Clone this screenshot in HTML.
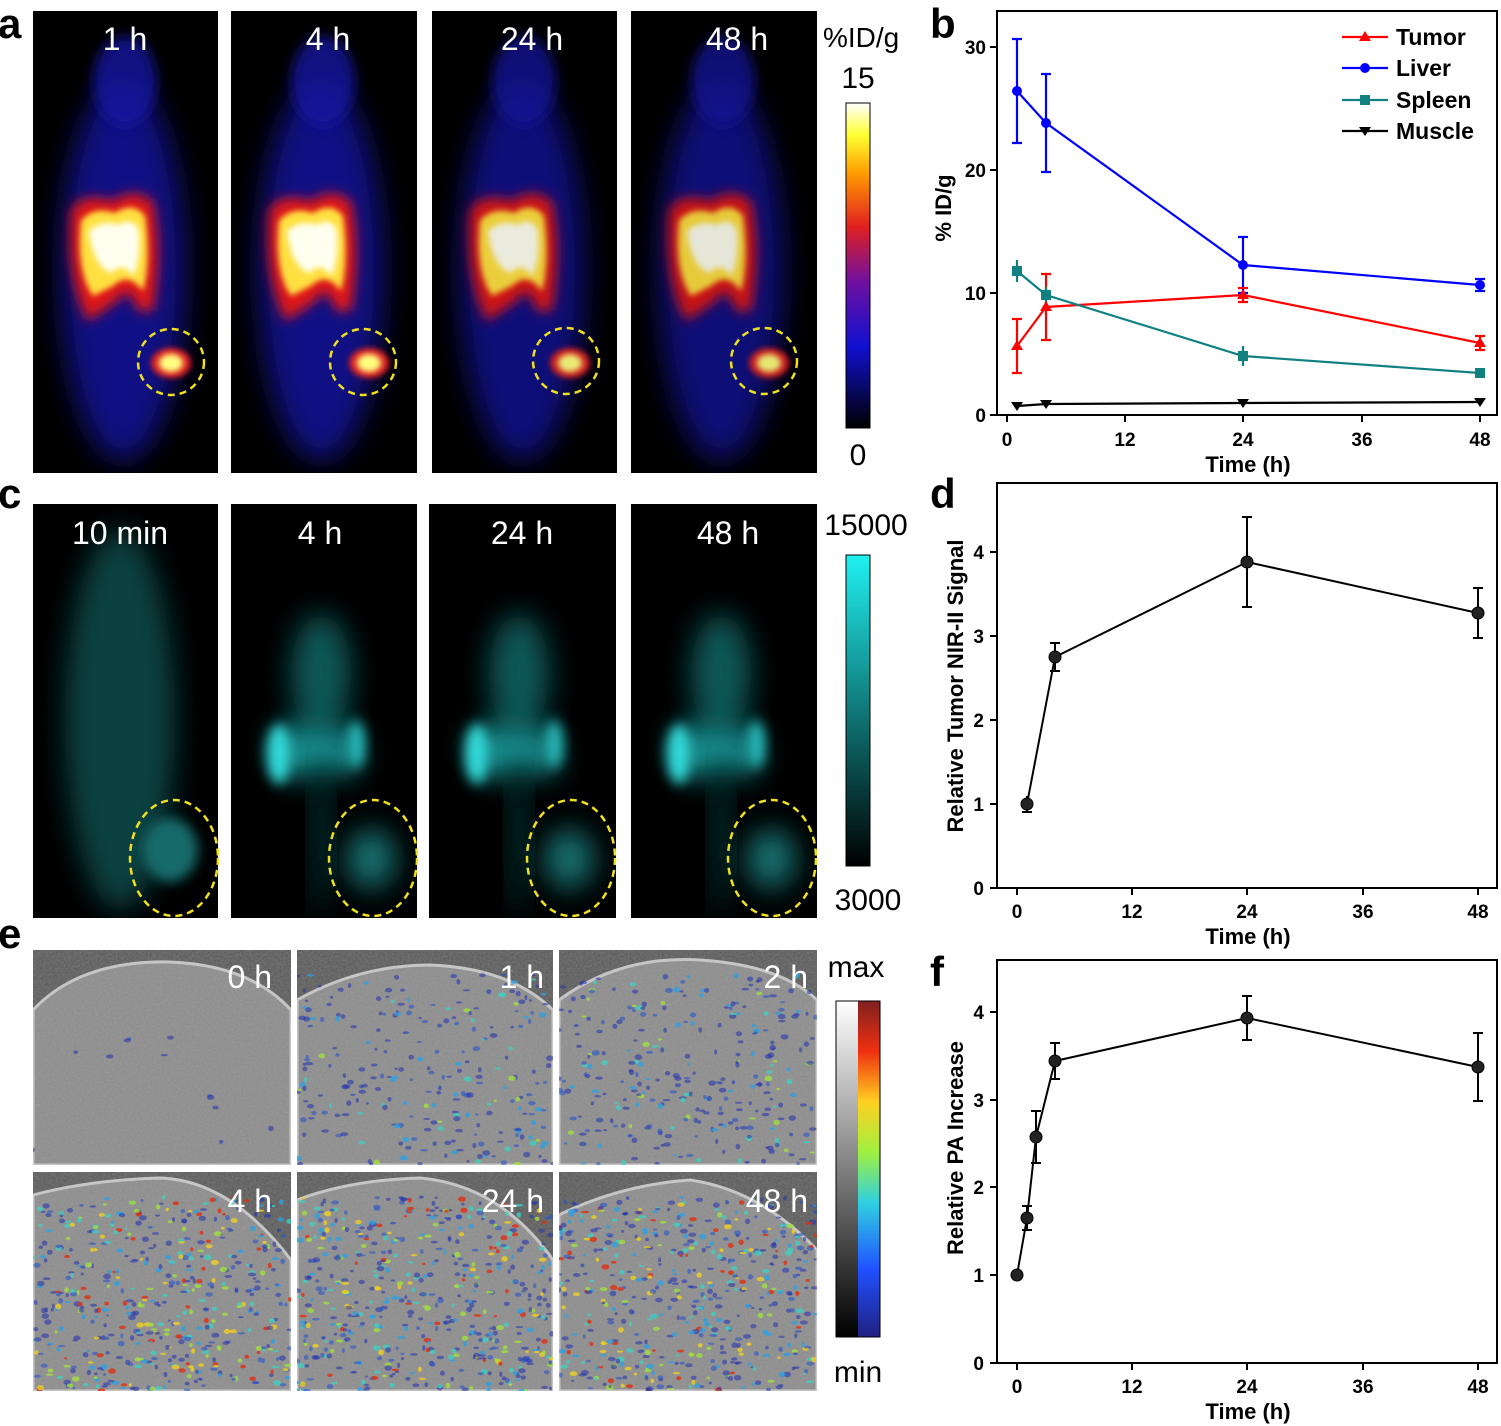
<!DOCTYPE html>
<html><head><meta charset="utf-8"><style>
html,body{margin:0;padding:0;background:#fff}
svg{display:block}
text{font-family:"Liberation Sans",Arial,sans-serif}
.pl{font-size:42px;font-weight:bold}
.tk{font-size:19px;font-weight:bold}
.ax{font-size:22px;font-weight:bold}
.lbl{font-size:32px;fill:#fff}
.cb{font-size:30px}
</style></head><body>
<svg id="s" width="1501" height="1426" viewBox="0 0 1501 1426" xmlns="http://www.w3.org/2000/svg">
<defs>
<filter id="b6" x="-50%" y="-50%" width="200%" height="200%"><feGaussianBlur stdDeviation="6"/></filter>
<filter id="b3" x="-50%" y="-50%" width="200%" height="200%"><feGaussianBlur stdDeviation="3"/></filter>
<filter id="b12" x="-50%" y="-50%" width="200%" height="200%"><feGaussianBlur stdDeviation="14"/></filter>
<filter id="grain" x="0" y="0" width="100%" height="100%"><feTurbulence type="fractalNoise" baseFrequency="0.5" numOctaves="2" seed="3"/><feColorMatrix type="matrix" values="0 0 0 0 0.5 0 0 0 0 0.5 0 0 0 0 0.5 0 0 0 0.6 0"/><feComposite operator="in" in2="SourceGraphic"/></filter>
<clipPath id="ca1"><rect x="33" y="11" width="185" height="462"/></clipPath>
<clipPath id="ca2"><rect x="231" y="11" width="186" height="462"/></clipPath>
<clipPath id="ca3"><rect x="432" y="11" width="185" height="462"/></clipPath>
<clipPath id="ca4"><rect x="631" y="11" width="186" height="462"/></clipPath>
<clipPath id="cc1"><rect x="33" y="504" width="185" height="414"/></clipPath>
<clipPath id="cc2"><rect x="231" y="504" width="186" height="414"/></clipPath>
<clipPath id="cc3"><rect x="429" y="504" width="187" height="414"/></clipPath>
<clipPath id="cc4"><rect x="631" y="504" width="186" height="414"/></clipPath>
<clipPath id="ce"><rect x="33" y="950" width="784" height="441"/></clipPath>
<linearGradient id="cbA" x1="0" y1="1" x2="0" y2="0">
<stop offset="0" stop-color="#000"/><stop offset="0.25" stop-color="#1010d0"/><stop offset="0.45" stop-color="#7010a0"/><stop offset="0.62" stop-color="#e02020"/><stop offset="0.78" stop-color="#ff9900"/><stop offset="0.9" stop-color="#ffff30"/><stop offset="1" stop-color="#fff"/></linearGradient>
<linearGradient id="cbC" x1="0" y1="1" x2="0" y2="0"><stop offset="0" stop-color="#000"/><stop offset="1" stop-color="#20f0f0"/></linearGradient>
<linearGradient id="cbG" x1="0" y1="1" x2="0" y2="0"><stop offset="0" stop-color="#000"/><stop offset="1" stop-color="#fff"/></linearGradient>
<linearGradient id="cbJ" x1="0" y1="1" x2="0" y2="0"><stop offset="0" stop-color="#202080"/><stop offset="0.2" stop-color="#2050ff"/><stop offset="0.4" stop-color="#30d0e0"/><stop offset="0.55" stop-color="#a0f040"/><stop offset="0.7" stop-color="#ffd020"/><stop offset="0.85" stop-color="#f03010"/><stop offset="1" stop-color="#802020"/></linearGradient>
<g id="mA">
<ellipse cx="90" cy="260" rx="62" ry="190" fill="#1414b0" filter="url(#b12)" opacity="0.75"/>
<ellipse cx="92" cy="70" rx="32" ry="45" fill="#1818a0" filter="url(#b6)" opacity="0.8"/>
<path d="M38 200 Q48 180 80 190 Q100 175 120 190 Q130 240 120 300 L105 300 Q95 270 85 290 L55 310 Q33 270 38 200Z" fill="#e01818" filter="url(#b6)"/>
<path d="M48 210 Q60 195 82 202 Q100 190 112 205 Q118 250 110 280 Q95 260 80 275 L60 285 Q43 260 48 210Z" fill="#ffe040" filter="url(#b3)"/>
<path d="M56 220 Q70 208 85 214 Q100 205 106 220 Q108 250 100 265 Q90 250 78 262 Q60 255 56 220Z" fill="#fffff0" filter="url(#b3)"/>
<ellipse cx="138" cy="352" rx="20" ry="15" fill="#e02020" filter="url(#b3)"/>
<ellipse cx="138" cy="352" rx="12" ry="9" fill="#ffff80" filter="url(#b3)"/>
</g>
<g id="mC">
<ellipse cx="90" cy="170" rx="30" ry="60" fill="#0c5858" filter="url(#b12)"/>
<path d="M40 240 Q70 200 90 230 Q110 200 130 250 Q120 290 90 260 Q60 300 40 240Z" fill="#129090" filter="url(#b12)"/>
<ellipse cx="48" cy="250" rx="12" ry="30" fill="#30d8d8" filter="url(#b6)"/>
<ellipse cx="125" cy="240" rx="9" ry="24" fill="#28b8b8" filter="url(#b6)"/>
<ellipse cx="90" cy="330" rx="8" ry="80" fill="#0a3a3a" filter="url(#b12)"/>
<ellipse cx="140" cy="355" rx="25" ry="30" fill="#157070" filter="url(#b12)"/>
</g>
</defs>
<rect width="1501" height="1426" fill="#fff"/>
<!-- panel a -->
<rect x="33" y="11" width="185" height="462" fill="#000"/>
<rect x="231" y="11" width="186" height="462" fill="#000"/>
<rect x="432" y="11" width="185" height="462" fill="#000"/>
<rect x="631" y="11" width="186" height="462" fill="#000"/>
<g clip-path="url(#ca1)"><g transform="translate(33,11)"><use href="#mA"/></g></g>
<g clip-path="url(#ca2)"><g transform="translate(231,11)"><use href="#mA"/></g></g>
<g clip-path="url(#ca3)"><g transform="translate(432,11)"><use href="#mA" opacity="0.92"/></g></g>
<g clip-path="url(#ca4)"><g transform="translate(631,11)"><use href="#mA" opacity="0.9"/></g></g>
<g fill="none" stroke="#f0e020" stroke-width="2.5" stroke-dasharray="7,5">
<circle cx="171" cy="362" r="33"/><circle cx="363" cy="362" r="33"/><circle cx="566" cy="361" r="33"/><circle cx="764" cy="361" r="33"/></g>
<text class="lbl" x="125" y="50" text-anchor="middle">1 h</text>
<text class="lbl" x="328" y="50" text-anchor="middle">4 h</text>
<text class="lbl" x="532" y="50" text-anchor="middle">24 h</text>
<text class="lbl" x="737" y="50" text-anchor="middle">48 h</text>
<rect x="846" y="103" width="24" height="325" fill="url(#cbA)" stroke="#000"/>
<text class="cb" x="823" y="47" style="font-size:28px">%ID/g</text>
<text class="cb" x="858" y="88" text-anchor="middle">15</text>
<text class="cb" x="858" y="465" text-anchor="middle">0</text>
<text class="pl" x="-2" y="38">a</text>
<!-- panel c -->
<rect x="33" y="504" width="185" height="414" fill="#000"/>
<rect x="231" y="504" width="186" height="414" fill="#000"/>
<rect x="429" y="504" width="187" height="414" fill="#000"/>
<rect x="631" y="504" width="186" height="414" fill="#000"/>
<g clip-path="url(#cc1)">
<ellipse cx="120" cy="720" rx="55" ry="190" fill="#0c4a4a" filter="url(#b12)" opacity="0.9"/>
<ellipse cx="170" cy="850" rx="28" ry="32" fill="#146a6a" filter="url(#b6)"/></g>
<g clip-path="url(#cc2)"><g transform="translate(231,504)"><use href="#mC"/></g></g>
<g clip-path="url(#cc3)"><g transform="translate(429,504)"><use href="#mC"/></g></g>
<g clip-path="url(#cc4)"><g transform="translate(631,504)"><use href="#mC"/></g></g>
<g fill="none" stroke="#f0e020" stroke-width="2.5" stroke-dasharray="7,5">
<ellipse cx="174" cy="858" rx="44" ry="58"/><ellipse cx="373" cy="858" rx="44" ry="58"/><ellipse cx="571" cy="858" rx="44" ry="58"/><ellipse cx="772" cy="858" rx="44" ry="58"/></g>
<text class="lbl" x="120" y="544" text-anchor="middle">10 min</text>
<text class="lbl" x="320" y="544" text-anchor="middle">4 h</text>
<text class="lbl" x="522" y="544" text-anchor="middle">24 h</text>
<text class="lbl" x="728" y="544" text-anchor="middle">48 h</text>
<rect x="846" y="555" width="24" height="311" fill="url(#cbC)" stroke="#000"/>
<text class="cb" x="866" y="535" text-anchor="middle">15000</text>
<text class="cb" x="868" y="910" text-anchor="middle">3000</text>
<text class="pl" x="-2" y="508">c</text>
<!-- panel e -->
<g clip-path="url(#ce)">
<rect x="33" y="950" width="784" height="441" fill="#585858"/>
<g id="domes" fill="#8a8a8a" stroke="#c8c8c8" stroke-width="3">
<path d="M33 1165 L33 1010 Q80 960 170 962 Q250 965 291 1010 L291 1165Z"/>
<path d="M297 1165 L297 1000 Q360 965 430 965 Q510 968 553 1010 L553 1165Z"/>
<path d="M559 1165 L559 1000 Q620 955 700 960 Q780 965 817 1000 L817 1165Z"/>
<path d="M33 1391 L33 1195 Q90 1180 160 1178 Q230 1180 291 1260 L291 1391Z"/>
<path d="M297 1391 L297 1200 Q350 1180 420 1178 Q500 1185 553 1260 L553 1391Z"/>
<path d="M559 1391 L559 1215 Q620 1185 690 1180 Q760 1190 817 1250 L817 1391Z"/>
</g>
<rect x="33" y="950" width="784" height="441" fill="#fff" filter="url(#grain)" opacity="0.55"/>
<g id="spk"></g>
</g>
<rect x="291" y="950" width="6" height="441" fill="#fff"/><rect x="553" y="950" width="6" height="441" fill="#fff"/><rect x="33" y="1165" width="784" height="7" fill="#fff"/>
<text class="lbl" x="272" y="988" text-anchor="end">0 h</text>
<text class="lbl" x="544" y="988" text-anchor="end">1 h</text>
<text class="lbl" x="808" y="988" text-anchor="end">2 h</text>
<text class="lbl" x="272" y="1212" text-anchor="end">4 h</text>
<text class="lbl" x="544" y="1212" text-anchor="end">24 h</text>
<text class="lbl" x="808" y="1212" text-anchor="end">48 h</text>
<rect x="836" y="1001" width="22" height="336" fill="url(#cbG)"/>
<rect x="858" y="1001" width="22" height="336" fill="url(#cbJ)"/>
<rect x="836" y="1001" width="44" height="336" fill="none" stroke="#000"/>
<text class="cb" x="856" y="977" text-anchor="middle">max</text>
<text class="cb" x="858" y="1382" text-anchor="middle">min</text>
<text class="pl" x="-2" y="948">e</text>

<!-- panel b -->
<g stroke="#000" stroke-width="2" fill="none">
<rect x="997" y="11" width="500" height="404"/>
<path d="M1007 415v7M1125 415v7M1243 415v7M1362 415v7M1480 415v7M997 415h-7M997 293h-7M997 170h-7M997 47h-7"/>
</g>
<g class="tk" text-anchor="middle"><text x="1007" y="446">0</text><text x="1125" y="446">12</text><text x="1243" y="446">24</text><text x="1362" y="446">36</text><text x="1480" y="446">48</text></g>
<g class="tk" text-anchor="end"><text x="986" y="422">0</text><text x="986" y="300">10</text><text x="986" y="177">20</text><text x="986" y="54">30</text></g>
<text class="ax" x="1248" y="472" text-anchor="middle">Time (h)</text>
<text class="ax" transform="translate(951,208) rotate(-90)" text-anchor="middle">% ID/g</text>
<text class="pl" x="930" y="38">b</text>
<g stroke-width="2.2" fill="none">
<path stroke="#f00" d="M1017 346L1046 307L1243 295L1480 343M1017 319v54M1046 274v66M1243 288v14M1480 336v14"/>
<path stroke="#00f" d="M1017 91L1046 123L1243 265L1480 285M1017 39v104M1046 74v98M1243 237v56M1480 279v12"/>
<path stroke="#108080" d="M1017 271L1046 295L1243 356L1480 373M1017 260v22M1046 287v16M1243 346v20M1480 371v4"/>
<path stroke="#000" d="M1017 406L1046 404L1243 403L1480 402"/>
<path stroke="#f00" d="M1012 319h10M1012 373h10M1041 274h10M1041 340h10M1238 288h10M1238 302h10M1475 336h10M1475 350h10"/>
<path stroke="#00f" d="M1012 39h10M1012 143h10M1041 74h10M1041 172h10M1238 237h10M1238 293h10M1475 279h10M1475 291h10"/>
</g>
<g fill="#f00"><path d="M1017 340l6 10h-12z"/><path d="M1046 301l6 10h-12z"/><path d="M1243 289l6 10h-12z"/><path d="M1480 337l6 10h-12z"/></g>
<g fill="#00f"><circle cx="1017" cy="91" r="5"/><circle cx="1046" cy="123" r="5"/><circle cx="1243" cy="265" r="5"/><circle cx="1480" cy="285" r="5"/></g>
<g fill="#108080"><rect x="1012" y="266" width="10" height="10"/><rect x="1041" y="290" width="10" height="10"/><rect x="1238" y="351" width="10" height="10"/><rect x="1475" y="368" width="10" height="10"/></g>
<g fill="#000"><path d="M1011 402h12l-6 9z"/><path d="M1040 400h12l-6 9z"/><path d="M1237 399h12l-6 9z"/><path d="M1474 398h12l-6 9z"/></g>
<g stroke-width="2.2"><path stroke="#f00" d="M1342 37h46"/><path stroke="#00f" d="M1342 68h46"/><path stroke="#108080" d="M1342 100h46"/><path stroke="#000" d="M1342 131h46"/></g>
<path d="M1365 31l6 10h-12z" fill="#f00"/><circle cx="1365" cy="68" r="5" fill="#00f"/><rect x="1360" y="95" width="10" height="10" fill="#108080"/><path d="M1359 127h12l-6 9z"/>
<g class="ax" style="font-size:23px"><text x="1396" y="45">Tumor</text><text x="1396" y="76">Liver</text><text x="1396" y="108">Spleen</text><text x="1396" y="139">Muscle</text></g>

<!-- panel d -->
<g stroke="#000" stroke-width="2" fill="none">
<rect x="997" y="483" width="500" height="405"/>
<path d="M1017 888v7M1132 888v7M1247 888v7M1363 888v7M1478 888v7M997 888h-7M997 804h-7M997 720h-7M997 636h-7M997 552h-7"/>
<path d="M1027 804L1055 657L1247 562L1478 613M1027 796v16M1055 643v28M1247 517v90M1478 588v50M1022 812h10M1050 643h10M1050 671h10M1242 517h10M1242 607h10M1473 588h10M1473 638h10"/>
</g>
<g class="tk" text-anchor="middle"><text x="1017" y="918">0</text><text x="1132" y="918">12</text><text x="1247" y="918">24</text><text x="1363" y="918">36</text><text x="1478" y="918">48</text></g>
<g class="tk" text-anchor="end"><text x="984" y="895">0</text><text x="984" y="811">1</text><text x="984" y="727">2</text><text x="984" y="643">3</text><text x="984" y="559">4</text></g>
<text class="ax" x="1248" y="944" text-anchor="middle">Time (h)</text>
<text class="ax" transform="translate(963,686) rotate(-90)" text-anchor="middle">Relative Tumor NIR-II Signal</text>
<text class="pl" x="930" y="508">d</text>
<g fill="#222" stroke="#000"><circle cx="1027" cy="804" r="6"/><circle cx="1055" cy="657" r="6"/><circle cx="1247" cy="562" r="6"/><circle cx="1478" cy="613" r="6"/></g>

<!-- panel f -->
<g stroke="#000" stroke-width="2" fill="none">
<rect x="997" y="960" width="500" height="403"/>
<path d="M1017 1363v7M1132 1363v7M1247 1363v7M1363 1363v7M1478 1363v7M997 1363h-7M997 1275h-7M997 1187h-7M997 1100h-7M997 1012h-7"/>
<path d="M1017 1275L1027 1218L1036 1137L1055 1061L1247 1018L1478 1067M1027 1206v24M1036 1111v52M1055 1043v36M1247 996v44M1478 1033v68M1022 1206h10M1022 1230h10M1031 1111h10M1031 1163h10M1050 1043h10M1050 1079h10M1242 996h10M1242 1040h10M1473 1033h10M1473 1101h10"/>
</g>
<g class="tk" text-anchor="middle"><text x="1017" y="1393">0</text><text x="1132" y="1393">12</text><text x="1247" y="1393">24</text><text x="1363" y="1393">36</text><text x="1478" y="1393">48</text></g>
<g class="tk" text-anchor="end"><text x="984" y="1370">0</text><text x="984" y="1282">1</text><text x="984" y="1194">2</text><text x="984" y="1107">3</text><text x="984" y="1019">4</text></g>
<text class="ax" x="1248" y="1419" text-anchor="middle">Time (h)</text>
<text class="ax" transform="translate(963,1148) rotate(-90)" text-anchor="middle">Relative PA Increase</text>
<text class="pl" x="930" y="986">f</text>
<g fill="#222" stroke="#000"><circle cx="1017" cy="1275" r="6"/><circle cx="1027" cy="1218" r="6"/><circle cx="1036" cy="1137" r="6"/><circle cx="1055" cy="1061" r="6"/><circle cx="1247" cy="1018" r="6"/><circle cx="1478" cy="1067" r="6"/></g>
</svg>
<script>
(function(){
var s=7;function r(){s=(s*16807)%2147483647;return s/2147483647;}
var panels=[[33,950,258,215,12],[297,950,256,215,260],[559,950,258,215,300],[33,1172,258,219,520],[297,1172,256,219,560],[559,1172,258,219,540]];
var cols=["#2030b0","#2050d0","#30a0e0","#40d0c0","#a0e040","#f0d020","#e03010"];
var out="";
panels.forEach(function(p,i){
 for(var k=0;k<p[4];k++){
  var x=p[0]+r()*p[2],y=p[1]+25+r()*(p[3]-25);
  var lv=Math.floor(Math.pow(r(),i<3?3:1.8)*(i==0?2:i<3?5:7));
  out+='<ellipse cx="'+x.toFixed(1)+'" cy="'+y.toFixed(1)+'" rx="'+(1.5+r()*2.5).toFixed(1)+'" ry="'+(1+r()*1.8).toFixed(1)+'" fill="'+cols[lv]+'" opacity="'+(lv<2?0.55:0.8)+'"/>';
 }
});
document.getElementById("spk").innerHTML=out;
})();
</script>
</body></html>
